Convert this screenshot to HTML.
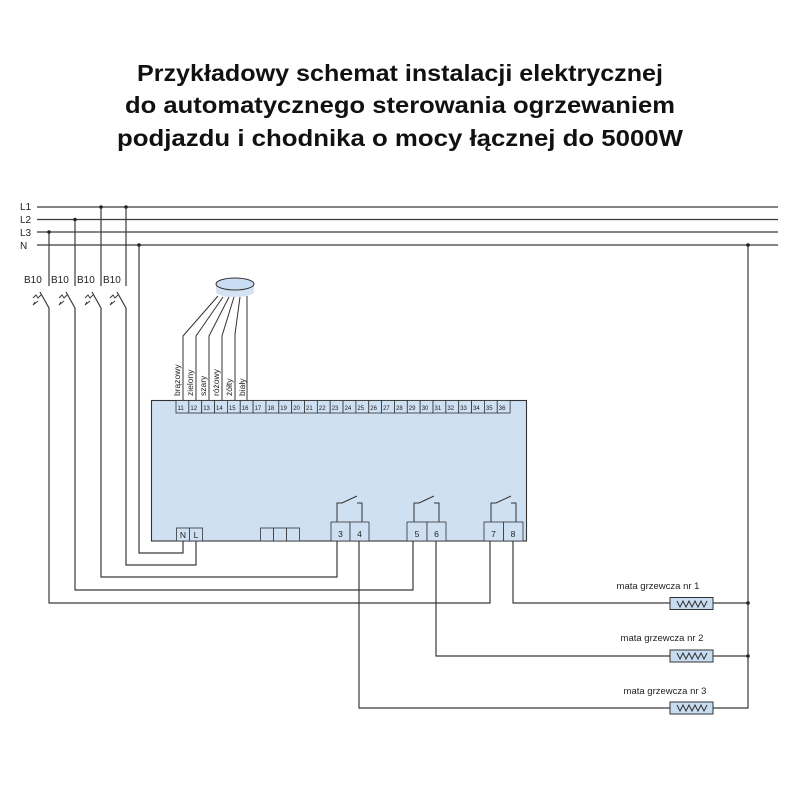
<!DOCTYPE html>
<html><head><meta charset="utf-8"><style>body{margin:0;background:#fff}svg{display:block}</style></head><body>
<svg width="800" height="800" viewBox="0 0 800 800" xmlns="http://www.w3.org/2000/svg" font-family="Liberation Sans, sans-serif">
<g font-weight="bold" font-size="23" text-anchor="middle" fill="#111">
<text x="400" y="81" textLength="526" lengthAdjust="spacingAndGlyphs">Przykładowy schemat instalacji elektrycznej</text>
<text x="400" y="113" textLength="550" lengthAdjust="spacingAndGlyphs">do automatycznego sterowania ogrzewaniem</text>
<text x="400" y="146" textLength="566" lengthAdjust="spacingAndGlyphs">podjazdu i chodnika o mocy łącznej do 5000W</text>
</g>
<g font-size="10" fill="#222">
<text x="20" y="210">L1</text><text x="20" y="223">L2</text><text x="20" y="236">L3</text><text x="20" y="249">N</text>
<text x="24" y="283">B10</text><text x="51" y="283">B10</text><text x="77" y="283">B10</text><text x="103" y="283">B10</text>
</g>
<g stroke="#3a3a3a" stroke-width="1.2" fill="none">
<line x1="37" y1="207" x2="778" y2="207"/><line x1="37" y1="219.5" x2="778" y2="219.5"/><line x1="37" y1="232" x2="778" y2="232"/><line x1="37" y1="245" x2="778" y2="245"/>
<polyline points="49,232 49,286"/><polyline points="75,219.5 75,286"/><polyline points="101,207 101,286"/><polyline points="126,207 126,286"/>
<polyline points="40,292 49,308 49,603 490,603 490,541"/>
<polyline points="66,292 75,308 75,590 413,590 413,541"/>
<polyline points="92,292 101,308 101,577 337,577 337,541"/>
<polyline points="117,292 126,308 126,565 196,565 196,541"/>
<polyline points="139,245 139,553 183,553 183,541"/>
<polyline points="359,541 359,708 670,708"/>
<polyline points="436,541 436,656 670,656"/>
<polyline points="513,541 513,603 670,603"/>
<polyline points="713,603 748,603"/><polyline points="713,656 748,656"/><polyline points="713,708 748,708 748,245"/>
</g>
<g fill="#222">
<circle cx="49" cy="232" r="1.8"/><circle cx="75" cy="219.5" r="1.8"/><circle cx="101" cy="207" r="1.8"/><circle cx="126" cy="207" r="1.8"/><circle cx="139" cy="245" r="1.8"/>
<circle cx="748" cy="245" r="1.8"/><circle cx="748" cy="603" r="1.8"/><circle cx="748" cy="656" r="1.8"/>
</g>
<g stroke="#333" stroke-width="0.9" fill="none">
<path d="M33,298 l3,-3 l2,3 l3,-3 M38,301 l-5,4 M33,305 l2,-3"/>
<path d="M59,298 l3,-3 l2,3 l3,-3 M64,301 l-5,4 M59,305 l2,-3"/>
<path d="M85,298 l3,-3 l2,3 l3,-3 M90,301 l-5,4 M85,305 l2,-3"/>
<path d="M110,298 l3,-3 l2,3 l3,-3 M115,301 l-5,4 M110,305 l2,-3"/>
</g>
<path d="M216,284 L216,292 A19,5 0 0 0 254,292 L254,284 Z" fill="#d4e3f4"/>
<ellipse cx="235" cy="284" rx="19" ry="6" fill="#c9ddf2" stroke="#333" stroke-width="1"/>
<g stroke="#333" stroke-width="1" fill="none">
<polyline points="218,296 183,336 183,400"/><polyline points="223,297 196,336 196,400"/><polyline points="229,297 209,336 209,400"/><polyline points="234,297 222,336 222,400"/><polyline points="240,297 235,334 235,400"/><polyline points="247,296 247,400"/>
</g>
<g font-size="8.5" fill="#222">
<text transform="translate(180,396) rotate(-90)">brązowy</text>
<text transform="translate(193,396) rotate(-90)">zielony</text>
<text transform="translate(206,396) rotate(-90)">szary</text>
<text transform="translate(219,396) rotate(-90)">różowy</text>
<text transform="translate(232,396) rotate(-90)">żółty</text>
<text transform="translate(245,396) rotate(-90)">biały</text>
</g>
<rect x="151.5" y="400.5" width="375" height="140.5" fill="#cfe0f3" stroke="#333" stroke-width="1.1"/>
<g stroke="#333" stroke-width="0.8" fill="#cfe0f3">
<rect x="176" y="400.5" width="12.85" height="12.5"/><rect x="188.85" y="400.5" width="12.85" height="12.5"/><rect x="201.7" y="400.5" width="12.85" height="12.5"/><rect x="214.55" y="400.5" width="12.85" height="12.5"/><rect x="227.4" y="400.5" width="12.85" height="12.5"/><rect x="240.25" y="400.5" width="12.85" height="12.5"/><rect x="253.1" y="400.5" width="12.85" height="12.5"/><rect x="265.95" y="400.5" width="12.85" height="12.5"/><rect x="278.8" y="400.5" width="12.85" height="12.5"/><rect x="291.65" y="400.5" width="12.85" height="12.5"/><rect x="304.5" y="400.5" width="12.85" height="12.5"/><rect x="317.35" y="400.5" width="12.85" height="12.5"/><rect x="330.2" y="400.5" width="12.85" height="12.5"/><rect x="343.05" y="400.5" width="12.85" height="12.5"/><rect x="355.9" y="400.5" width="12.85" height="12.5"/><rect x="368.75" y="400.5" width="12.85" height="12.5"/><rect x="381.6" y="400.5" width="12.85" height="12.5"/><rect x="394.45" y="400.5" width="12.85" height="12.5"/><rect x="407.3" y="400.5" width="12.85" height="12.5"/><rect x="420.15" y="400.5" width="12.85" height="12.5"/><rect x="433" y="400.5" width="12.85" height="12.5"/><rect x="445.85" y="400.5" width="12.85" height="12.5"/><rect x="458.7" y="400.5" width="12.85" height="12.5"/><rect x="471.55" y="400.5" width="12.85" height="12.5"/><rect x="484.4" y="400.5" width="12.85" height="12.5"/><rect x="497.25" y="400.5" width="12.85" height="12.5"/>
<rect x="176.5" y="528" width="13" height="13"/><rect x="189.5" y="528" width="13" height="13"/>
<rect x="260.5" y="528" width="13" height="13"/><rect x="273.5" y="528" width="13" height="13"/><rect x="286.5" y="528" width="13" height="13"/>
<rect x="331" y="522" width="19" height="19"/><rect x="350" y="522" width="19" height="19"/>
<rect x="407" y="522" width="20" height="19"/><rect x="427" y="522" width="19" height="19"/>
<rect x="484" y="522" width="19.5" height="19"/><rect x="503.5" y="522" width="19.5" height="19"/>
</g>
<g font-size="6" fill="#222">
<text x="177.5" y="410">11</text><text x="190.4" y="410">12</text><text x="203.2" y="410">13</text><text x="216" y="410">14</text><text x="228.9" y="410">15</text><text x="241.8" y="410">16</text><text x="254.6" y="410">17</text><text x="267.5" y="410">18</text><text x="280.3" y="410">19</text><text x="293.2" y="410">20</text><text x="306" y="410">21</text><text x="318.9" y="410">22</text><text x="331.7" y="410">23</text><text x="344.6" y="410">24</text><text x="357.4" y="410">25</text><text x="370.3" y="410">26</text><text x="383.1" y="410">27</text><text x="396" y="410">28</text><text x="408.8" y="410">29</text><text x="421.7" y="410">30</text><text x="434.5" y="410">31</text><text x="447.4" y="410">32</text><text x="460.2" y="410">33</text><text x="473.1" y="410">34</text><text x="485.9" y="410">35</text><text x="498.8" y="410">36</text>
</g>
<g font-size="8.5" fill="#222" text-anchor="middle">
<text x="183" y="538">N</text><text x="196" y="538">L</text>
<text x="340.5" y="537">3</text><text x="359.5" y="537">4</text>
<text x="417" y="537">5</text><text x="436.5" y="537">6</text>
<text x="493.5" y="537">7</text><text x="513" y="537">8</text>
</g>
<g stroke="#333" stroke-width="1" fill="none">
<polyline points="337,522 337,503 342,503 357,496"/><polyline points="357,503 362,503 362,522"/>
<polyline points="414,522 414,503 419,503 434,496"/><polyline points="434,503 439,503 439,522"/>
<polyline points="491,522 491,503 496,503 511,496"/><polyline points="511,503 516,503 516,522"/>
</g>
<g font-size="9.5" fill="#222" text-anchor="middle">
<text x="658" y="589">mata grzewcza nr 1</text><text x="662" y="641">mata grzewcza nr 2</text><text x="665" y="694">mata grzewcza nr 3</text>
</g>
<g stroke="#333" stroke-width="1">
<rect x="670" y="597.5" width="43" height="12" fill="#c9ddf2"/><rect x="670" y="650" width="43" height="12" fill="#c9ddf2"/><rect x="670" y="702" width="43" height="12" fill="#c9ddf2"/>
<polyline fill="none" points="677,601 680,607 683,601 686,607 689,601 692,607 695,601 698,607 701,601 704,607 707,601"/>
<polyline fill="none" points="677,653 680,659 683,653 686,659 689,653 692,659 695,653 698,659 701,653 704,659 707,653"/>
<polyline fill="none" points="677,705 680,711 683,705 686,711 689,705 692,711 695,705 698,711 701,705 704,711 707,705"/>
</g>
</svg>
</body></html>
